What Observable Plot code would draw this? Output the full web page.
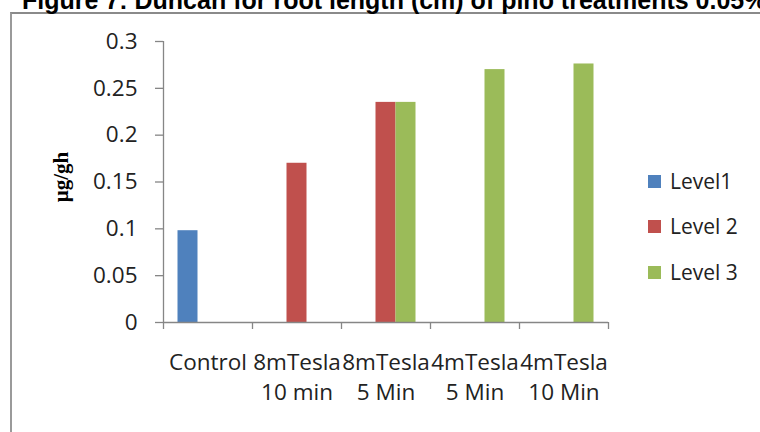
<!DOCTYPE html>
<html>
<head>
<meta charset="utf-8">
<script src="https://cdn.jsdelivr.net/npm/d3@7"></script>
<script src="https://cdn.jsdelivr.net/npm/@observablehq/plot@0.6"></script>
<style>
  html, body { margin: 0; padding: 0; background: #fff; }
  #root { position: relative; width: 760px; height: 432px; overflow: hidden; background: #fff; }
  #title { position: absolute; left: 22px; top: -12px; white-space: nowrap; font: bold 25px/25px "Liberation Sans", Arial, sans-serif; color: #000; }
  #frame { position: absolute; left: 10px; top: 12px; width: 760px; height: 430px; border-left: 2px solid #9a9a9a; border-top: 2px solid #8a8a8a; box-sizing: border-box; }
  #chart { position: absolute; left: 0; top: 0; }
  #ylabel { position: absolute; left: 61px; top: 177px; transform: translate(-50%, -50%) rotate(-90deg); font: bold 21px "Liberation Serif", "Times New Roman", serif; color: #000; white-space: nowrap; }
  #legend { position: absolute; left: 648px; top: 0; font: 21px "Open Sans", sans-serif; color: #222; }
  .item { position: absolute; left: 0; display: flex; align-items: center; white-space: nowrap; transform: translateY(-50%); }
  .sw { width: 13px; height: 13px; margin-right: 9px; }
</style>
</head>
<body>
<div id="root">
  <div id="frame"></div>
  <div id="title">Figure 7: Duncan for root length (cm) of pino treatments 0.05%</div>
  <div id="chart"></div>
  <div id="ylabel">µg/gh</div>
  <div id="legend"></div>
</div>
<script>
// ---- data ----
const categories = ["Control", "8mTesla\n10 min", "8mTesla\n5 Min", "4mTesla\n5 Min", "4mTesla\n10 Min"];
const seriesNames = ["Level1", "Level 2", "Level 3"];
const level1 = [0.098, null, null, null, null];
const level2 = [null, 0.17, 0.235, null, null];
const level3 = [null, null, 0.235, 0.27, 0.276];
const yTicks = [0, 0.05, 0.1, 0.15, 0.2, 0.25, 0.3];
const colors = ["#4F81BD", "#C0504D", "#9BBB59"];

// ---- layout ----
const W = 760, H = 432;
const mL = 163, mR = 152, mT = 41, mB = 110;
const bandW = (W - mL - mR) / categories.length; // 89
const barW = 20;
const axisColor = "#868686";
const textColor = "#222";

const series = [level1, level2, level3];
const tables = series.map(vals => categories.map((c, i) => ({category: c, value: vals[i]})).filter(d => d.value != null));

const barMarks = tables.map((t, k) => Plot.barY(t, {
  x: "category", y: "value", fill: colors[k],
  insetLeft: (bandW - barW) / 2, insetRight: (bandW - barW) / 2,
  dx: (k - 1) * barW
}));

const chart = Plot.plot({
  width: W, height: H,
  marginLeft: mL, marginRight: mR, marginTop: mT, marginBottom: mB,
  style: {fontFamily: "'Open Sans', sans-serif", fontSize: "22.5px", color: textColor, background: "transparent", overflow: "visible"},
  x: {type: "band", domain: categories, padding: 0, label: null},
  y: {domain: [0, 0.3], label: null},
  marks: [
    ...barMarks,
    Plot.ruleY([0], {stroke: axisColor, strokeWidth: 1.3}),
    Plot.ruleX([categories[0]], {dx: -bandW / 2, stroke: axisColor, strokeWidth: 1.3}),
    Plot.axisY(yTicks, {tickSize: 8, tickPadding: 18, tickFormat: d => String(d), stroke: axisColor, fill: textColor, label: null, strokeWidth: 1.3}),
    Plot.axisX(categories, {tickSize: 7, tickFormat: () => "", dx: -bandW / 2, stroke: axisColor, label: null, strokeWidth: 1.3}),
    Plot.axisX([categories[categories.length - 1]], {tickSize: 7, tickFormat: () => "", dx: bandW / 2, stroke: axisColor, label: null, strokeWidth: 1.3}),
    Plot.text(categories, {x: d => d, text: d => d, frameAnchor: "bottom", lineAnchor: "top", dy: 26, lineHeight: 1.33, fill: textColor})
  ]
});
document.getElementById("chart").appendChild(chart);

// ---- legend ----
const legend = document.getElementById("legend");
const legendY = [181, 226, 272];
seriesNames.forEach((name, k) => {
  const item = document.createElement("div");
  item.className = "item";
  item.style.top = legendY[k] + "px";
  const sw = document.createElement("span");
  sw.className = "sw";
  sw.style.background = colors[k];
  const tx = document.createElement("span");
  tx.textContent = name;
  item.appendChild(sw);
  item.appendChild(tx);
  legend.appendChild(item);
});
</script>
</body>
</html>
